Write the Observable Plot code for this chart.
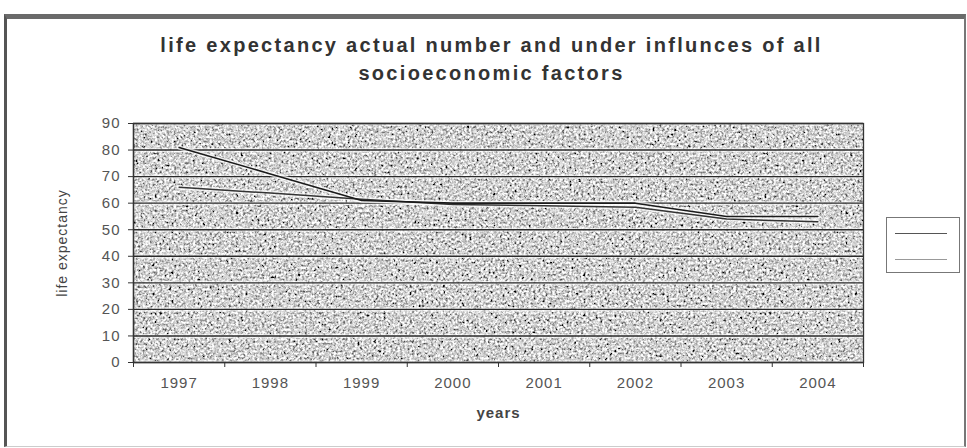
<!DOCTYPE html>
<html>
<head>
<meta charset="utf-8">
<script src="https://cdn.jsdelivr.net/npm/d3@7"></script>
<script src="https://cdn.jsdelivr.net/npm/@observablehq/plot@0.6"></script>
<style>
  html, body { margin: 0; padding: 0; background: #fff; }
  #wrap { position: relative; width: 967px; height: 448px; overflow: hidden; font-family: Arial, "Liberation Sans", sans-serif; }
  #frame { position: absolute; left: 4px; top: 14px; width: 957px; height: 427px;
           border-top: 5px solid #6a6a6a; border-left: 3px solid #555; border-right: 2px solid #777; border-bottom: 1px solid #ccc; }
  #title { position: absolute; left: 0; top: 31px; width: 983px; text-align: center;
           font-weight: bold; font-size: 20px; letter-spacing: 2.3px; line-height: 28px; color: #333; }
  #chart { position: absolute; left: 0; top: 100px; }
  #legend { position: absolute; left: 886px; top: 217px; width: 72px; height: 54px; border: 1px solid #777; background: #fff; }
  #legend .l { position: absolute; left: 8px; width: 52px; height: 0; }
</style>
</head>
<body>
<div id="wrap">
  <div id="frame"></div>
  <div id="title">life expectancy actual number and under influnces of all<br>socioeconomic factors</div>
  <div id="chart"></div>
  <div id="legend">
    <div class="l" style="top:15px;border-top:1.5px solid #555;"></div>
    <div class="l" style="top:41px;border-top:1.5px solid #999;"></div>
  </div>
</div>
<script>
const years = [1997, 1998, 1999, 2000, 2001, 2002, 2003, 2004];
const actual = [81, 71, 61, 60, 60, 60, 55, 55];
const influenced = [66, 63.8, 61.5, 59.5, 59, 58.5, 54, 53];
const yTicks = [0, 10, 20, 30, 40, 50, 60, 70, 80, 90];
const xLabel = "years";
const yLabel = "life expectancy";

const rows = [];
years.forEach((yr, i) => {
  rows.push({year: yr, value: actual[i], series: "actual"});
  rows.push({year: yr, value: influenced[i], series: "influenced"});
});
const bandEdges = d3.range(years[0] - 0.5, years[years.length - 1] + 1, 1);

const plot = Plot.plot({
  width: 967,
  height: 348,
  marginTop: 23,
  marginBottom: 86,
  marginLeft: 133,
  marginRight: 104,
  style: {fontFamily: "Arial, 'Liberation Sans', sans-serif", fontSize: "15px", color: "#444", background: "transparent"},
  x: {domain: [years[0] - 0.5, years[years.length - 1] + 0.5]},
  y: {domain: [0, 90]},
  marks: [
    Plot.frame({fill: "#aaa", stroke: "none"}),
    Plot.ruleY(yTicks, {stroke: "#fff", strokeWidth: 4, strokeOpacity: 0.6}),
    Plot.ruleY(yTicks, {stroke: "#2a2a2a", strokeWidth: 1.4}),
    Plot.line(rows, {x: "year", y: "value", z: "series", stroke: "#fff", strokeWidth: 4.5, strokeOpacity: 0.7}),
    Plot.line(rows.filter(d => d.series === "influenced"), {x: "year", y: "value", stroke: "#333", strokeWidth: 1.5}),
    Plot.line(rows.filter(d => d.series === "actual"), {x: "year", y: "value", stroke: "#1a1a1a", strokeWidth: 1.6}),
    Plot.frame({stroke: "#333", strokeWidth: 1.3}),
    Plot.axisY({ticks: yTicks, tickSize: 5, tickPadding: 8, label: null, stroke: "#333", fill: "#555", fontSize: 15}),
    Plot.axisX({ticks: years, tickFormat: d => String(d), tickSize: 0, tickPadding: 15, label: null, fill: "#555", fontSize: 15}),
    Plot.axisX({ticks: bandEdges, tickFormat: () => "", tickSize: 5, label: null, stroke: "#333"}),
    Plot.ruleX([years[0] - 0.5], {stroke: "#333", strokeWidth: 1.3}),
    Plot.text([xLabel], {frameAnchor: "bottom", dy: 55, text: d => d, fontWeight: "bold", fontSize: 15, fill: "#444"}),
    Plot.text([yLabel], {frameAnchor: "left", dx: -71, rotate: -90, textAnchor: "middle", text: d => d, fontSize: 14, fill: "#444"})
  ]
});

// Add a grainy texture to the plotting area (purely decorative style)
const svg = d3.select(plot);
const defs = svg.insert("defs", ":first-child");
const f = defs.append("filter").attr("id", "grain").attr("x", 0).attr("y", 0).attr("width", 1).attr("height", 1)
  .attr("filterUnits", "objectBoundingBox");
f.append("feTurbulence").attr("type", "fractalNoise").attr("baseFrequency", 0.42).attr("numOctaves", 2).attr("seed", 7).attr("result", "n");
f.append("feColorMatrix").attr("in", "n").attr("type", "matrix")
  .attr("values", "0.33 0.33 0.33 0 0  0.33 0.33 0.33 0 0  0.33 0.33 0.33 0 0  0 0 0 0 1").attr("result", "g");
const ct = f.append("feComponentTransfer").attr("in", "g");
["feFuncR", "feFuncG", "feFuncB"].forEach(k => ct.append(k).attr("type", "linear").attr("slope", 3.6).attr("intercept", -1.15));
const frameEl = plot.querySelector("[aria-label='frame']");
if (frameEl) {
  const target = frameEl.tagName.toLowerCase() === "rect" ? frameEl : frameEl.querySelector("rect");
  if (target) target.setAttribute("filter", "url(#grain)");
}
svg.selectAll("[aria-label^='y-axis tick label'] text, [aria-label^='x-axis tick label'] text").style("letter-spacing", "1px");
svg.selectAll("[aria-label='text'] text").style("letter-spacing", "1px");

document.getElementById("chart").appendChild(plot);
</script>
</body>
</html>
